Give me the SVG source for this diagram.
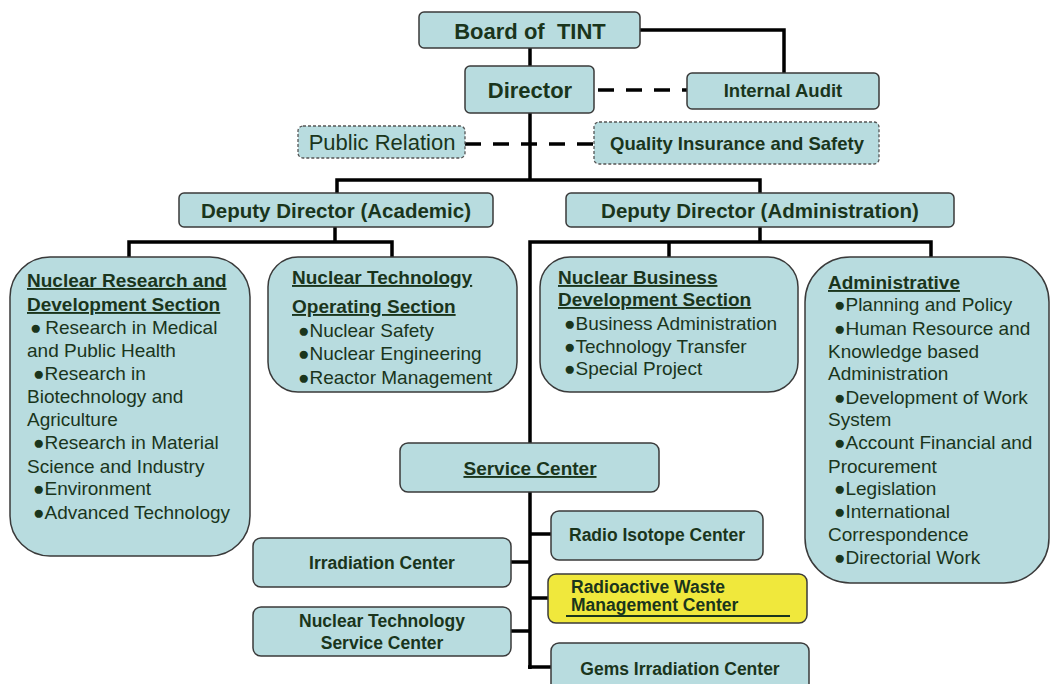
<svg xmlns="http://www.w3.org/2000/svg" width="1050" height="684" viewBox="0 0 1050 684">
<style>
.box{fill:#b8dcdf;stroke:#3a3a3a;stroke-width:1.5}
.dbox{fill:#b8dcdf;stroke:#555;stroke-width:1.3;stroke-dasharray:3 2}
.yel{fill:#f0e83c;stroke:#3a3a3a;stroke-width:1.5}
.ln{fill:none;stroke:#000;stroke-width:3.5}
.dash{fill:none;stroke:#000;stroke-width:3.5;stroke-dasharray:16 12}
text{font-family:"Liberation Sans",Arial,sans-serif;fill:#1a351c}
.b{font-weight:bold}
.c{text-anchor:middle}
.u{text-decoration:underline}
.r{font-size:19px}
</style>
<rect width="1050" height="684" fill="#fff"/>
<g id="connectors">
<polyline class="ln" points="640,30 784,30 784,73"/>
<line class="ln" x1="530" y1="48" x2="530" y2="66"/>
<line class="dash" x1="594" y1="90" x2="687" y2="90" stroke-dashoffset="-4"/>
<line class="dash" x1="465" y1="144" x2="594" y2="144"/>
<line class="ln" x1="530" y1="113" x2="530" y2="180"/>
<polyline class="ln" points="337,193 337,180 760,180 760,193"/>
<line class="ln" x1="335" y1="227" x2="335" y2="242"/>
<polyline class="ln" points="129,257 129,242 392,242 392,257"/>
<line class="ln" x1="760" y1="227" x2="760" y2="242"/>
<polyline class="ln" points="530,669 530,242 931,242 931,257"/>
<line class="ln" x1="669" y1="242" x2="669" y2="257"/>
<line class="ln" x1="530" y1="534" x2="551" y2="534"/>
<line class="ln" x1="511" y1="562" x2="530" y2="562"/>
<line class="ln" x1="530" y1="598" x2="548" y2="598"/>
<line class="ln" x1="511" y1="631" x2="530" y2="631"/>
<line class="ln" x1="528" y1="667" x2="551" y2="667"/>
</g>
<g id="board">
<rect class="box" x="419" y="12" width="221" height="36" rx="5"/>
<text class="b c" x="530" y="39" font-size="22">Board of&#160; TINT</text>
</g>
<g id="director">
<rect class="box" x="465" y="66" width="129" height="47" rx="5"/>
<text class="b c" x="530" y="98" font-size="22">Director</text>
</g>
<g id="internal-audit">
<rect class="box" x="687" y="73" width="192" height="36" rx="5"/>
<text class="b c" x="783" y="97" font-size="18.5">Internal Audit</text>
</g>
<g id="public-relation">
<rect class="dbox" x="298" y="126" width="167" height="32" rx="5"/>
<text class="c" x="382" y="150" font-size="22">Public Relation</text>
</g>
<g id="quality">
<rect class="dbox" x="594" y="122" width="285" height="42" rx="5"/>
<text class="b c" x="737" y="150" font-size="18.5">Quality Insurance and Safety</text>
</g>
<g id="deputy-academic">
<rect class="box" x="179" y="193" width="314" height="34" rx="5"/>
<text class="b c" x="336" y="218" font-size="20.5">Deputy Director (Academic)</text>
</g>
<g id="deputy-admin">
<rect class="box" x="566" y="193" width="388" height="34" rx="5"/>
<text class="b c" x="760" y="218" font-size="20.5">Deputy Director (Administration)</text>
</g>
<g id="nuclear-research">
<rect class="box" x="10" y="257" width="240" height="299" rx="40"/>
<text class="b u r" x="27" y="287">Nuclear Research and</text>
<text class="b u r" x="27" y="311">Development Section</text>
<text class="r" x="30" y="334">●&#8201;Research in Medical</text>
<text class="r" x="27" y="357">and Public Health</text>
<text class="r" x="33" y="380">●Research in</text>
<text class="r" x="27" y="403">Biotechnology and</text>
<text class="r" x="27" y="426">Agriculture</text>
<text class="r" x="33" y="449">●Research in Material</text>
<text class="r" x="27" y="473">Science and Industry</text>
<text class="r" x="33" y="495">●Environment</text>
<text class="r" x="33" y="519">●Advanced Technology</text>
</g>
<g id="nuclear-tech-operating">
<rect class="box" x="268" y="257" width="249" height="135" rx="30"/>
<text class="b u r" x="292" y="284">Nuclear Technology</text>
<text class="b u r" x="292" y="313">Operating Section</text>
<text class="r" x="298" y="337">●Nuclear Safety</text>
<text class="r" x="298" y="360">●Nuclear Engineering</text>
<text class="r" x="298" y="384">●Reactor Management</text>
</g>
<g id="nuclear-business">
<rect class="box" x="540" y="257" width="258" height="135" rx="30"/>
<text class="b u r" x="558" y="284">Nuclear Business</text>
<text class="b u r" x="558" y="306">Development Section</text>
<text class="r" x="564" y="330">●Business Administration</text>
<text class="r" x="564" y="353">●Technology Transfer</text>
<text class="r" x="564" y="375">●Special Project</text>
</g>
<g id="administrative">
<rect class="box" x="805" y="257" width="244" height="326" rx="45"/>
<text class="b u r" x="828" y="289">Administrative</text>
<text class="r" x="834" y="311">●Planning and Policy</text>
<text class="r" x="834" y="335">●Human Resource and</text>
<text class="r" x="828" y="358">Knowledge based</text>
<text class="r" x="828" y="380">Administration</text>
<text class="r" x="834" y="404">●Development of Work</text>
<text class="r" x="828" y="426">System</text>
<text class="r" x="834" y="449">●Account Financial and</text>
<text class="r" x="828" y="473">Procurement</text>
<text class="r" x="834" y="495">●Legislation</text>
<text class="r" x="834" y="518">●International</text>
<text class="r" x="828" y="541">Correspondence</text>
<text class="r" x="834" y="564">●Directorial Work</text>
</g>
<g id="service-center">
<rect class="box" x="400" y="443" width="259" height="49" rx="8"/>
<text class="b c u r" x="530" y="475">Service Center</text>
</g>
<g id="radio-isotope">
<rect class="box" x="551" y="511" width="212" height="49" rx="8"/>
<text class="b c" x="657" y="541" font-size="17.5">Radio Isotope Center</text>
</g>
<g id="irradiation">
<rect class="box" x="253" y="538" width="258" height="49" rx="8"/>
<text class="b c" x="382" y="569" font-size="17.5">Irradiation Center</text>
</g>
<g id="radioactive-waste">
<rect class="yel" x="548" y="574" width="259" height="49" rx="8"/>
<text class="b" x="571" y="593" font-size="17.5">Radioactive Waste</text>
<text class="b" x="571" y="611" font-size="17.5">Management Center</text>
<line x1="566" y1="616" x2="790" y2="616" stroke="#1a351c" stroke-width="2"/>
</g>
<g id="nt-service">
<rect class="box" x="253" y="607" width="258" height="49" rx="8"/>
<text class="b c" x="382" y="627" font-size="17.5">Nuclear Technology</text>
<text class="b c" x="382" y="649" font-size="17.5">Service Center</text>
</g>
<g id="gems">
<rect class="box" x="551" y="643" width="258" height="60" rx="8"/>
<text class="b c" x="680" y="675" font-size="17.5">Gems Irradiation Center</text>
</g>
</svg>
